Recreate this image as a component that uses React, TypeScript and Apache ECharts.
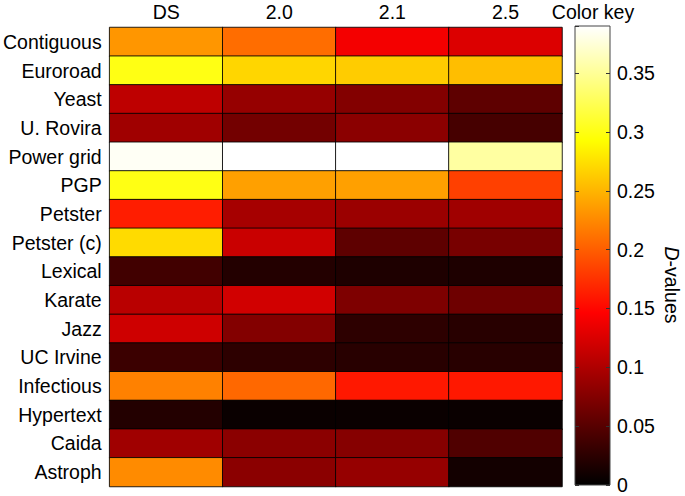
import React, { useEffect, useRef } from "react";
import * as echarts from "echarts";

const columns = ["DS", "2.0", "2.1", "2.5"];
const rows = [
  "Contiguous", "Euroroad", "Yeast", "U. Rovira", "Power grid", "PGP", "Petster", "Petster (c)",
  "Lexical", "Karate", "Jazz", "UC Irvine", "Infectious", "Hypertext", "Caida", "Astroph",
];
const valuesDS = [0.232, 0.3, 0.109, 0.092, 0.386, 0.3, 0.163, 0.272, 0.037, 0.106, 0.118, 0.034, 0.22, 0.02, 0.092, 0.226];
const values20 = [0.209, 0.269, 0.086, 0.066, 0.39, 0.238, 0.095, 0.115, 0.02, 0.12, 0.075, 0.026, 0.206, 0.006, 0.08, 0.08];
const values21 = [0.14, 0.263, 0.075, 0.08, 0.39, 0.238, 0.089, 0.054, 0.017, 0.072, 0.026, 0.023, 0.16, 0.006, 0.077, 0.086];
const values25 = [0.126, 0.255, 0.054, 0.04, 0.354, 0.183, 0.092, 0.069, 0.017, 0.063, 0.023, 0.023, 0.16, 0.006, 0.046, 0.011];
const keyMin = 0;
const keyMax = 0.39;
const keyInterval = 0.05;
// MATLAB "hot" colormap sampled at t = k/8
const hotColors = ["#000000", "#550000", "#aa0000", "#ff0000", "#ff5500", "#ffaa00", "#ffff00", "#ffff80", "#ffffff"];

const FONT = "'Liberation Sans', Arial, Helvetica, sans-serif";
const FS = 19.5;

export default function App() {
  const ref = useRef<HTMLDivElement>(null);
  useEffect(() => {
    if (!ref.current) return;
    const chart = echarts.init(ref.current, null, { renderer: "svg" });
    const cols = [valuesDS, values20, values21, values25];
    const data: number[][] = [];
    cols.forEach((arr, ci) => arr.forEach((v, ri) => data.push([ci, ri, v])));

    const barLeft = 575, barTop = 26, barW = 35, barH = 459;

    chart.setOption({
      animation: false,
      textStyle: { fontFamily: FONT },
      grid: [
        { left: 108.5, top: 27.5, width: 453.5, height: 459 },
        { left: barLeft, top: barTop, width: barW, height: barH },
      ],
      xAxis: [
        {
          type: "category", gridIndex: 0, data: columns, position: "top",
          axisLine: { show: false }, axisTick: { show: false }, splitLine: { show: false },
          axisLabel: { color: "#000", fontSize: FS, fontFamily: FONT, margin: 6 },
        },
        { type: "value", gridIndex: 1, show: false, min: 0, max: 1 },
      ],
      yAxis: [
        {
          type: "category", gridIndex: 0, data: rows, inverse: true,
          axisLine: { show: false }, axisTick: { show: false }, splitLine: { show: false },
          axisLabel: { color: "#000", fontSize: FS, fontFamily: FONT, margin: 8 },
        },
        {
          type: "value", gridIndex: 1, position: "left", min: keyMin, max: keyMax, interval: keyInterval,
          z: 10,
          axisLine: { show: false }, splitLine: { show: false },
          axisTick: { show: true, inside: true, length: 4, lineStyle: { color: "#333" } },
          axisLabel: { show: false },
        },
        {
          type: "value", gridIndex: 1, position: "right", min: keyMin, max: keyMax, interval: keyInterval,
          z: 10,
          axisLine: { show: false }, splitLine: { show: false },
          axisTick: { show: true, inside: true, length: 4, lineStyle: { color: "#333" } },
          axisLabel: { color: "#000", fontSize: FS, fontFamily: FONT, margin: 7, showMaxLabel: false },
        },
      ],
      visualMap: {
        show: false, type: "continuous", min: keyMin, max: keyMax, seriesIndex: 0,
        inRange: { color: hotColors },
      },
      series: [
        {
          type: "heatmap", xAxisIndex: 0, yAxisIndex: 0, data,
          itemStyle: { borderColor: "rgba(0,0,0,0.85)", borderWidth: 1 },
          emphasis: { disabled: true },
          label: { show: false },
        },
      ],
      graphic: [
        {
          type: "rect", z: 1,
          shape: { x: barLeft, y: barTop, width: barW, height: barH },
          style: {
            fill: new echarts.graphic.LinearGradient(0, 1, 0, 0,
              hotColors.map((c, i) => ({ offset: i / (hotColors.length - 1), color: c }))),
            stroke: "#444", lineWidth: 1,
          },
        },
        {
          type: "text", x: 593, y: 12, z: 5,
          style: { text: "Color key", fontSize: FS, fontFamily: FONT, fill: "#000", align: "center", verticalAlign: "middle" },
        },
        {
          type: "text", x: 672, y: 285, rotation: -Math.PI / 2, z: 5,
          style: {
            text: "{i|D}-values", fontSize: FS, fontFamily: FONT, fill: "#000", align: "center", verticalAlign: "middle",
            rich: { i: { fontStyle: "italic", fontSize: FS, fontFamily: FONT, fill: "#000" } },
          },
        },
      ],
    });
    return () => chart.dispose();
  }, []);
  return <div ref={ref} style={{ width: 685, height: 496, position: "absolute", left: 0, top: 0 }} />;
}
